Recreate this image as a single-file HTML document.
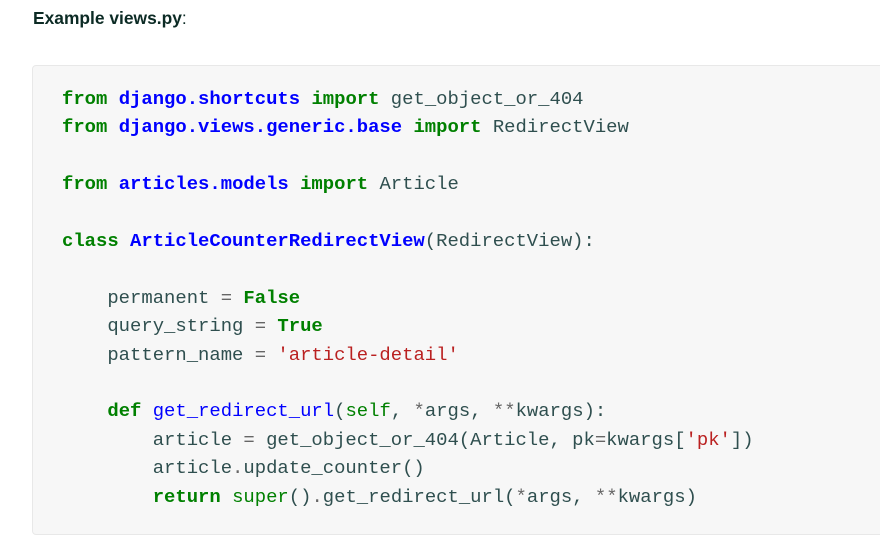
<!DOCTYPE html>
<html><head><meta charset="utf-8"><style>
body{margin:0;background:#fff;width:880px;height:534px;overflow:hidden;position:relative}
.t{position:absolute;left:33px;top:8px;font:bold 17.4px "Liberation Sans",sans-serif;color:#0c2b25}
.t span{font-weight:normal}
.box{position:absolute;left:32px;top:65px;width:900px;height:468px;background:#f7f7f7;border:1px solid #e8e8e8;border-radius:4px}
pre{position:absolute;left:62px;top:85px;margin:0;font:18.9px/28.4px "Liberation Mono",monospace;color:#2f4f4f}
.k{color:#008000;font-weight:bold}.n{color:#0000ff;font-weight:bold}.f{color:#0000ff}.o{color:#666}.s{color:#ba2121}.g{color:#008000}
</style></head><body>
<div class="t">Example views.py<span>:</span></div>
<div class="box"></div>
<pre><span class="k">from</span> <span class="n">django.shortcuts</span> <span class="k">import</span> get_object_or_404
<span class="k">from</span> <span class="n">django.views.generic.base</span> <span class="k">import</span> RedirectView

<span class="k">from</span> <span class="n">articles.models</span> <span class="k">import</span> Article

<span class="k">class</span> <span class="n">ArticleCounterRedirectView</span>(RedirectView):

    permanent <span class="o">=</span> <span class="k">False</span>
    query_string <span class="o">=</span> <span class="k">True</span>
    pattern_name <span class="o">=</span> <span class="s">'article-detail'</span>

    <span class="k">def</span> <span class="f">get_redirect_url</span>(<span class="g">self</span>, <span class="o">*</span>args, <span class="o">**</span>kwargs):
        article <span class="o">=</span> get_object_or_404(Article, pk<span class="o">=</span>kwargs[<span class="s">'pk'</span>])
        article<span class="o">.</span>update_counter()
        <span class="k">return</span> <span class="g">super</span>()<span class="o">.</span>get_redirect_url(<span class="o">*</span>args, <span class="o">**</span>kwargs)</pre>
</body></html>
